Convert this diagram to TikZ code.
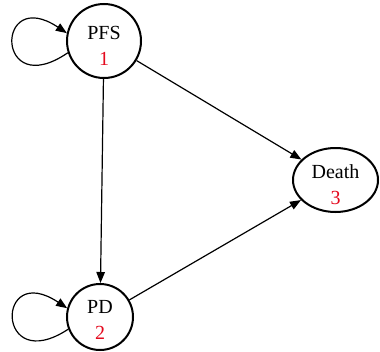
\documentclass[tikz,border=0pt]{standalone}
\usepackage{fontspec}
\setmainfont{Liberation Serif}
\usetikzlibrary{arrows.meta,shapes.geometric}
\definecolor{numred}{RGB}{228,10,30}
\begin{document}
\begin{tikzpicture}[x=1pt,y=-1pt,
  statenode/.style={draw=black,line width=2pt,inner sep=0pt},
  statetext/.style={font=\fontsize{20}{26}\selectfont,align=center,inner sep=0pt},
  arr/.style={line width=1.2pt,-{Triangle[length=11pt,width=8.5pt]}}]
\useasboundingbox (0,0) rectangle (380,351);
\node[statenode,circle,minimum size=74pt,
  label={[statetext,yshift=-4.5pt]center:PFS\\\textcolor{numred}{1}}] (pfs) at (104,41) {};
\node[statenode,circle,minimum size=66pt,
  label={[statetext,yshift=-2.5pt]center:PD\\\textcolor{numred}{2}}] (pd) at (100,317) {};
\node[statenode,ellipse,minimum width=85pt,minimum height=64pt,
  label={[statetext,yshift=-5pt]center:Death\\\textcolor{numred}{3}}] (death) at (335.5,180) {};
\draw[arr] (pfs) -- (pd);
\draw[arr] (pfs) -- (death);
\draw[arr] (pd) -- (death);
\draw[arr] (pfs.198) .. controls +(-73,50) and +(-72,-48) .. (pfs.168);
\draw[arr] (pd.201) .. controls +(-73,48) and +(-72,-48) .. (pd.165);
\end{tikzpicture}
\end{document}
